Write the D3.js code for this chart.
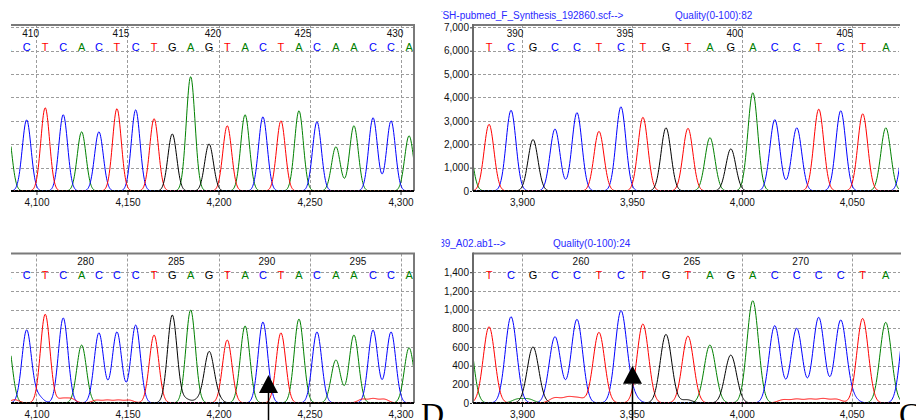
<!DOCTYPE html>
<html lang="en">
<head>
  <meta charset="UTF-8">
  <title>Sequencing traces</title>
  <script src="https://d3js.org/d3.v7.min.js"></script>
  <style>
    body { margin: 0; background: #fff; }
    svg text { font-family: "Liberation Sans", Arial, sans-serif; }
    .grid line { stroke: #9c9c9c; stroke-width: 1; stroke-dasharray: 3,2; }
    .trace { fill: none; stroke-width: 1; }
    .axis text { font-size: 10px; fill: #111; }
    .axis path { display: none; }
    .axis line { stroke: #333; }
    .base { font-size: 11px; text-anchor: middle; }
    .num { font-size: 10px; text-anchor: middle; fill: #111; }
    .title { font-size: 10px; fill: #2a2aff; }
  </style>
</head>
<body>
<div id="chart"></div>
<script>
const width = 916, height = 420;

// ---- top left trace ----
const tlPos = [4084, 4094.6, 4104.8, 4114.7, 4124.8, 4134.3, 4144.2, 4154.5, 4164.6, 4174.6, 4184.7, 4194.8,
  4204.8, 4214.6, 4224.4, 4234.3, 4244.2, 4254.1, 4264.5, 4274.4, 4284.9, 4294.8, 4304.7];
const tlBases = "ACTCACTCTGAGTACTACAACCA";
const tlHeights = [2700, 3040, 3560, 3260, 2530, 2530, 3520, 3470, 3090, 2440, 4890, 2010,
  2790, 3260, 3170, 3000, 3430, 2960, 1890, 2790, 3130, 3000, 2360];
const tlNumbers = [410, 415, 420, 425, 430];
const tlFirst = 409;

// ---- top right trace ----
const trPos = [3875, 3885, 3895, 3905, 3915, 3925, 3935, 3945, 3955, 3965.5, 3975.5, 3985.5, 3995,
  4005, 4015, 4025, 4035, 4045, 4055, 4065.5, 4075];
const trBases = "ATCGCCTCTGTAGACCTCTAC";
const trHeights = [2400, 2850, 3450, 2200, 2650, 3350, 2550, 3600, 3150, 2700, 2680, 2280, 1800,
  4200, 3050, 2700, 3500, 3430, 3300, 2700, 3000];
const trNumbers = [390, 395, 400, 405];
const trFirst = 388;

// ---- bottom left trace ----
const blPos = tlPos;
const blBases = "ACTCACCCTGAGTACTACAACCA";
const blHeights = [680, 780, 950, 910, 620, 750, 760, 834, 727, 941, 995, 535,
  674, 824, 866, 750, 898, 760, 460, 727, 780, 760, 590];
const blNumbers = [280, 285, 290, 295];
const blFirst = 276;
// small background peaks: base, position, height
const blMinor = [["T", 4088, 35], ["C", 4101, 70], ["T", 4114, 45], ["T", 4119, 45], ["T", 4133, 30], ["T", 4139, 30],
  ["T", 4145, 30], ["T", 4151, 30], ["G", 4182, 40], ["G", 4189, 35], ["G", 4199, 60],
  ["T", 4279, 40], ["T", 4285, 45], ["T", 4291, 40]];

// ---- bottom right trace ----
const brPos = trPos;
const brBases = "ATCGCCTCTGTAGACCCCTAC";
const brHeights = [860, 816, 923, 600, 709, 895, 756, 976, 845, 734, 716, 620, 513,
  1094, 827, 798, 916, 880, 905, 863, 1000];
const brNumbers = [260, 265, 270];
const brFirst = 255;
const brMinor = [["A", 3898, 40], ["A", 3903, 40], ["T", 3915, 55], ["T", 3921, 60], ["T", 3926, 50],
  ["C", 3950, 90], ["G", 3975, 35], ["T", 4019, 35], ["T", 4025, 40], ["T", 4031, 40],
  ["T", 4037, 45], ["T", 4043, 40], ["C", 4050, 60]];

const topYTicks = [0, 1000, 2000, 3000, 4000, 5000, 6000, 7000];
const botYTicks = [0, 200, 400, 600, 800, 1000, 1200, 1400];
const leftXTicks = [4100, 4150, 4200, 4250, 4300];
const rightXTicks = [3900, 3950, 4000, 4050];

const arrows = [{ panel: 2, pos: 4227, value: 300 }, { panel: 3, pos: 3950, value: 400 }];

const baseColor = { A: "#008000", C: "#0000ff", G: "#000000", T: "#ff0000" };

const panels = [
  { left: 11, right: 414, top: 25, bottom: 191, xd: [4086, 4307.4], yd: [0, 7100], yTicks: topYTicks, xTicks: leftXTicks,
    pos: tlPos, bases: tlBases, heights: tlHeights, numbers: tlNumbers, first: tlFirst, minor: [], sigma: 2.4, yAxis: false, rightBorder: true },
  { left: 473, right: 899, top: 25, bottom: 191, xd: [3877.7, 4071.5], yd: [0, 7100], yTicks: topYTicks, xTicks: rightXTicks,
    pos: trPos, bases: trBases, heights: trHeights, numbers: trNumbers, first: trFirst, minor: [], sigma: 2.25, yAxis: true, rightBorder: false },
  { left: 11, right: 414, top: 253.5, bottom: 403, xd: [4086, 4307.4], yd: [0, 1600], yTicks: botYTicks, xTicks: leftXTicks,
    pos: blPos, bases: blBases, heights: blHeights, numbers: blNumbers, first: blFirst, minor: blMinor, sigma: 2.6, yAxis: false, rightBorder: true },
  { left: 473, right: 900, top: 253.5, bottom: 403, xd: [3877.7, 4072], yd: [0, 1600], yTicks: botYTicks, xTicks: rightXTicks,
    pos: brPos, bases: brBases, heights: brHeights, numbers: brNumbers, first: brFirst, minor: brMinor, sigma: 2.6, yAxis: true, rightBorder: false }
];

const svg = d3.select("#chart").append("svg")
  .attr("width", width)
  .attr("height", height);

function gauss(x, p, h, s) { return h * Math.exp(-((x - p) * (x - p)) / (2 * s * s)); }

panels.forEach((p, i) => {
  const x = d3.scaleLinear().domain(p.xd).range([p.left, p.right]);
  const y = d3.scaleLinear().domain(p.yd).range([p.bottom, p.top]);
  p.x = x; p.y = y;

  svg.append("clipPath").attr("id", "clip" + i)
    .append("rect")
    .attr("x", p.left).attr("y", p.top - 1)
    .attr("width", p.right - p.left).attr("height", p.bottom - p.top + 2);

  const g = svg.append("g");

  // grid
  const grid = g.append("g").attr("class", "grid");
  grid.selectAll(".h").data(p.yTicks.filter(d => d > 0)).enter().append("line")
    .attr("x1", p.left).attr("x2", p.right)
    .attr("y1", d => Math.round(y(d)) + 0.5).attr("y2", d => Math.round(y(d)) + 0.5);
  grid.selectAll(".v").data(p.xTicks).enter().append("line")
    .attr("y1", p.top).attr("y2", p.bottom)
    .attr("x1", d => Math.round(x(d)) + 0.5).attr("x2", d => Math.round(x(d)) + 0.5);

  // traces: each channel is the sum of its peaks
  const peaks = p.pos.map((pos, k) => ({ b: p.bases[k], pos: pos, h: p.heights[k], s: p.sigma }))
    .concat(p.minor.map(m => ({ b: m[0], pos: m[1], h: m[2], s: 2.5 })));
  const xs = d3.range(p.xd[0], p.xd[1] + 0.25, 0.25);
  const line = d3.line().x(d => x(d[0])).y(d => y(d[1]));
  const traces = g.append("g").attr("clip-path", "url(#clip" + i + ")");
  ["A", "C", "T", "G"].forEach(b => {
    const pk = peaks.filter(d => d.b === b);
    const pts = xs.map(v => [v, d3.sum(pk, d => gauss(v, d.pos, d.h, d.s))]);
    traces.append("path").attr("class", "trace")
      .attr("stroke", baseColor[b])
      .attr("d", line(pts));
  });

  // base calls (only those at least partly inside the plot)
  const shown = p.pos.map((d, k) => ({ pos: d, b: p.bases[k] }))
    .filter(d => x(d.pos) > p.left - 4 && x(d.pos) < p.right + 4);
  const calls = g.append("g").attr("clip-path", "url(#clip" + i + ")");
  calls.selectAll("text").data(shown).enter().append("text")
    .attr("class", "base")
    .attr("x", d => x(d.pos))
    .attr("y", p.top + 25.5)
    .attr("fill", d => baseColor[d.b])
    .text(d => d.b);

  g.selectAll(".num").data(p.numbers).enter().append("text")
    .attr("class", "num")
    .attr("x", d => x(p.pos[d - p.first]) + 4)
    .attr("y", p.top + 11.5)
    .text(d => d);

  // frame
  g.append("line").attr("x1", p.left).attr("x2", p.right + 1)
    .attr("y1", p.top).attr("y2", p.top)
    .attr("stroke", "#7a7a7a").attr("stroke-width", 2);
  if (p.rightBorder) {
    g.append("line").attr("x1", p.right).attr("x2", p.right)
      .attr("y1", p.top).attr("y2", p.bottom)
      .attr("stroke", "#7a7a7a").attr("stroke-width", 2);
  }
  if (p.yAxis) {
    g.append("line").attr("x1", p.left).attr("x2", p.left)
      .attr("y1", p.top - 1).attr("y2", p.bottom)
      .attr("stroke", "#6a6a6a").attr("stroke-width", 2);
    g.append("g").attr("class", "axis")
      .attr("transform", `translate(${p.left - 1},0)`)
      .call(d3.axisLeft(y).tickValues(p.yTicks).tickSize(2).tickPadding(1).tickFormat(d3.format(",")));
  }
  g.append("line").attr("x1", p.left).attr("x2", p.right)
    .attr("y1", p.bottom + 0.5).attr("y2", p.bottom + 0.5)
    .attr("stroke", "#000").attr("stroke-width", 1);
  g.append("line").attr("x1", p.left).attr("x2", p.right)
    .attr("y1", p.bottom - 0.5).attr("y2", p.bottom - 0.5)
    .attr("stroke", "#000").attr("stroke-width", 1).attr("stroke-dasharray", "3,1");

  g.append("g").attr("class", "axis")
    .attr("transform", `translate(0,${p.bottom + 1})`)
    .call(d3.axisBottom(x).tickValues(p.xTicks).tickSize(3).tickPadding(4).tickFormat(d3.format(",")));
});

// file names above the right panels, clipped on the left
svg.append("clipPath").attr("id", "clipTitle")
  .append("rect").attr("x", 441.6).attr("y", 0).attr("width", 480).attr("height", height);
const titles = svg.append("g").attr("clip-path", "url(#clipTitle)");
titles.append("text").attr("class", "title").attr("x", 436.3).attr("y", 18.5).text("TSH-pubmed_F_Synthesis_192860.scf-->");
titles.append("text").attr("class", "title").attr("x", 675).attr("y", 18.5).text("Quality(0-100):82");
titles.append("text").attr("class", "title").attr("x", 439.2).attr("y", 247).text("39_A02.ab1-->");
titles.append("text").attr("class", "title").attr("x", 553).attr("y", 247).text("Quality(0-100):24");

// arrows
arrows.forEach(a => {
  const p = panels[a.panel];
  const ax = Math.round(p.x(a.pos)) + 0.5, ay = p.y(a.value);
  svg.append("path")
    .attr("d", `M${ax},${ay}L${ax + 9.5},${ay + 18}L${ax - 9.5},${ay + 18}Z`)
    .attr("fill", "#000");
  svg.append("line").attr("x1", ax).attr("x2", ax)
    .attr("y1", ay + 18).attr("y2", height)
    .attr("stroke", "#000").attr("stroke-width", 1.5);
});

// panel letters
svg.append("text").attr("x", 421).attr("y", 425)
  .style("font-family", "'Liberation Serif', 'Times New Roman', serif").style("font-size", "32px").text("D");
svg.append("text").attr("x", 899).attr("y", 425)
  .style("font-family", "'Liberation Serif', 'Times New Roman', serif").style("font-size", "32px").text("C");
</script>
</body>
</html>
